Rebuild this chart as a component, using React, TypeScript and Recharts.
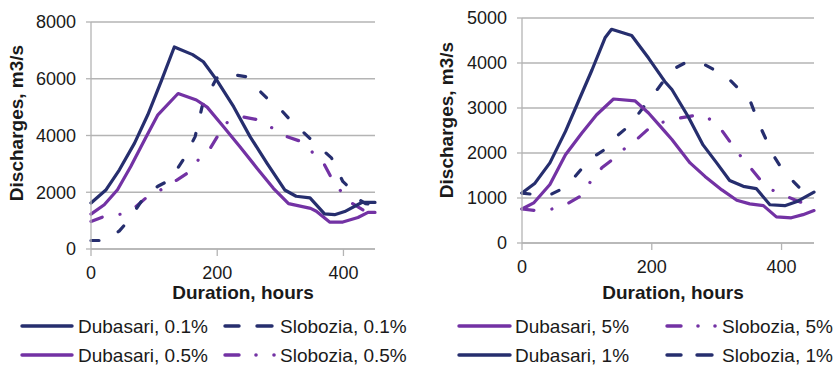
import React from 'react';
import { LineChart, Line, XAxis, YAxis, CartesianGrid } from 'recharts';

// ---- Left panel (0.1% / 0.5%) ----
const dub01Hours = [0, 24, 45, 69, 90, 111, 132, 161, 178, 199, 226, 252, 279, 307, 325, 347, 370, 386, 402, 429, 450];
const dub01Values = [1620, 2090, 2790, 3730, 4730, 5900, 7120, 6850, 6600, 5960, 5015, 3960, 3020, 2080, 1860, 1800, 1240, 1210, 1320, 1640, 1640];

const dub05Hours = [0, 21, 42, 63, 85, 106, 138, 167, 184, 210, 236, 263, 289, 313, 348, 357, 378, 399, 423, 439, 450];
const dub05Values = [1230, 1560, 2090, 2910, 3850, 4730, 5480, 5250, 5000, 4310, 3600, 2850, 2140, 1600, 1430, 1330, 950, 950, 1110, 1290, 1290];

const slo01Hours = [0, 24, 45, 58, 85, 106, 125, 146, 165, 176, 181, 199, 213, 247, 255, 279, 287, 313, 352, 381, 399, 407, 420, 435, 450];
const slo01Values = [300, 300, 640, 970, 1850, 2210, 2430, 3140, 3960, 5015, 5250, 6020, 6190, 6070, 5840, 5310, 5250, 4610, 3790, 3210, 2380, 2210, 1800, 1600, 1550];

const slo05Hours = [0, 21, 48, 69, 87, 111, 136, 153, 170, 189, 213, 239, 266, 284, 308, 334, 347, 368, 381, 394, 413, 439, 450];
const slo05Values = [970, 1150, 1230, 1450, 1800, 2090, 2430, 2680, 3140, 3550, 4430, 4660, 4550, 4310, 3980, 3780, 3490, 3050, 2500, 2090, 1620, 1270, 1270];

// ---- Right panel (5% / 1%) ----
const dub1Hours = [0, 20, 43, 67, 87, 108, 128, 138, 169, 195, 220, 231, 256, 279, 300, 320, 341, 361, 382, 405, 425, 450];
const dub1Values = [1110, 1330, 1780, 2480, 3150, 3850, 4560, 4750, 4610, 4110, 3590, 3410, 2810, 2180, 1780, 1390, 1260, 1210, 850, 830, 930, 1130];

const dub5Hours = [0, 18, 43, 67, 92, 115, 141, 174, 195, 220, 231, 259, 282, 308, 331, 351, 372, 392, 415, 433, 450];
const dub5Values = [755, 890, 1300, 1960, 2440, 2850, 3200, 3160, 2890, 2480, 2300, 1780, 1480, 1180, 950, 870, 830, 580, 560, 630, 720];

const slo1Hours = [0, 23, 46, 64, 82, 97, 115, 131, 149, 167, 182, 200, 210, 231, 251, 282, 315, 351, 367, 387, 403, 431, 450];
const slo1Values = [1110, 1070, 1090, 1220, 1480, 1740, 1960, 2110, 2410, 2630, 2920, 3260, 3440, 3850, 4000, 3960, 3700, 3180, 2590, 1960, 1590, 1180, 1130];

const slo5Hours = [0, 21, 46, 72, 90, 105, 123, 139, 156, 179, 202, 244, 272, 287, 308, 333, 351, 369, 385, 420, 444, 450];
const slo5Values = [755, 720, 755, 890, 1040, 1350, 1670, 1850, 2070, 2330, 2630, 2780, 2850, 2780, 2500, 2000, 1690, 1370, 1180, 960, 830, 800];

const xTicks = [0, 200, 400];
const leftYTicks = [0, 2000, 4000, 6000, 8000];
const rightYTicks = [0, 1000, 2000, 3000, 4000, 5000];

const NAVY = '#262e6e';
const PURPLE = '#7332a4';
const GRID = '#b4b4b4';
const TEXT = '#1a1a1a';
const FONT = '"Liberation Sans", Arial, Helvetica, sans-serif';

const DASHED = '8 22';
const DASHDOT = '12 18 0.1 18';

const zip = (hs: number[], vs: number[]) => hs.map((h, i) => ({ h, v: vs[i] }));

type SeriesDef = { name: string; data: { h: number; v: number }[]; color: string; dash?: string };

const leftSeries: SeriesDef[] = [
  { name: 'Slobozia, 0.5%', data: zip(slo05Hours, slo05Values), color: PURPLE, dash: DASHDOT },
  { name: 'Slobozia, 0.1%', data: zip(slo01Hours, slo01Values), color: NAVY, dash: DASHED },
  { name: 'Dubasari, 0.5%', data: zip(dub05Hours, dub05Values), color: PURPLE },
  { name: 'Dubasari, 0.1%', data: zip(dub01Hours, dub01Values), color: NAVY },
];

const rightSeries: SeriesDef[] = [
  { name: 'Slobozia, 5%', data: zip(slo5Hours, slo5Values), color: PURPLE, dash: DASHDOT },
  { name: 'Slobozia, 1%', data: zip(slo1Hours, slo1Values), color: NAVY, dash: DASHED },
  { name: 'Dubasari, 5%', data: zip(dub5Hours, dub5Values), color: PURPLE },
  { name: 'Dubasari, 1%', data: zip(dub1Hours, dub1Values), color: NAVY },
];

type PanelProps = {
  left: number;
  width: number;
  margin: { top: number; right: number; bottom: number; left: number };
  yWidth: number;
  xHeight: number;
  yMax: number;
  yTicks: number[];
  series: SeriesDef[];
  yTitle: { x: number; y: number };
  xTitle: { x: number; y: number };
};

const Panel = (p: PanelProps) => (
  <div style={{ position: 'absolute', left: p.left, top: 0 }}>
    <LineChart width={p.width} height={310} margin={p.margin} style={{ fontFamily: FONT }}>
      <CartesianGrid vertical={false} stroke={GRID} strokeWidth={1.3} />
      <XAxis
        type="number"
        dataKey="h"
        domain={[0, 450]}
        ticks={xTicks}
        height={p.xHeight}
        tickSize={7}
        tickMargin={10}
        axisLine={{ stroke: GRID, strokeWidth: 1.3 }}
        tickLine={{ stroke: GRID, strokeWidth: 1.3 }}
        tick={{ fontSize: 18, fill: TEXT, fontFamily: FONT }}
        label={{
          content: () => (
            <text x={p.xTitle.x} y={p.xTitle.y} textAnchor="middle" fontSize={19} fontWeight="bold" fill={TEXT} fontFamily={FONT}>
              Duration, hours
            </text>
          ),
        }}
      />
      <YAxis
        type="number"
        domain={[0, p.yMax]}
        ticks={p.yTicks}
        width={p.yWidth}
        tickSize={5}
        tickMargin={10}
        axisLine={{ stroke: GRID, strokeWidth: 1.3 }}
        tickLine={{ stroke: GRID, strokeWidth: 1.3 }}
        tick={{ fontSize: 18, fill: TEXT, fontFamily: FONT }}
        label={{
          content: () => (
            <text
              x={p.yTitle.x}
              y={p.yTitle.y}
              textAnchor="middle"
              dominantBaseline="central"
              transform={`rotate(-90 ${p.yTitle.x} ${p.yTitle.y})`}
              fontSize={19}
              fontWeight="bold"
              fill={TEXT}
              fontFamily={FONT}
            >
              Discharges, m3/s
            </text>
          ),
        }}
      />
      {p.series.map((s) => (
        <Line
          key={s.name}
          name={s.name}
          data={s.data}
          dataKey="v"
          type="linear"
          stroke={s.color}
          strokeWidth={3.2}
          strokeDasharray={s.dash}
          strokeLinecap="round"
          strokeLinejoin="round"
          dot={false}
          activeDot={false}
          isAnimationActive={false}
        />
      ))}
    </LineChart>
  </div>
);

type LegendItem = { label: string; color: string; kind: 'solid' | 'dash' | 'dashdot'; x0: number; x1: number; tx: number; y: number };

const legendItems: LegendItem[] = [
  { label: 'Dubasari, 0.1%', color: NAVY, kind: 'solid', x0: 22, x1: 72, tx: 78, y: 326 },
  { label: 'Slobozia, 0.1%', color: NAVY, kind: 'dash', x0: 225, x1: 272, tx: 280, y: 326 },
  { label: 'Dubasari, 0.5%', color: PURPLE, kind: 'solid', x0: 22, x1: 72, tx: 78, y: 355 },
  { label: 'Slobozia, 0.5%', color: PURPLE, kind: 'dashdot', x0: 225, x1: 274, tx: 280, y: 355 },
  { label: 'Dubasari, 5%', color: PURPLE, kind: 'solid', x0: 459, x1: 510, tx: 515, y: 326 },
  { label: 'Slobozia, 5%', color: PURPLE, kind: 'dashdot', x0: 667, x1: 715, tx: 722, y: 326 },
  { label: 'Dubasari, 1%', color: NAVY, kind: 'solid', x0: 459, x1: 510, tx: 515, y: 355 },
  { label: 'Slobozia, 1%', color: NAVY, kind: 'dash', x0: 667, x1: 712, tx: 722, y: 355 },
];

const LegendSample = ({ it }: { it: LegendItem }) => {
  if (it.kind === 'solid') {
    return <line x1={it.x0} x2={it.x1} y1={it.y} y2={it.y} stroke={it.color} strokeWidth={3.4} strokeLinecap="round" />;
  }
  if (it.kind === 'dash') {
    return (
      <g>
        <line x1={it.x0} x2={it.x0 + 14} y1={it.y} y2={it.y} stroke={it.color} strokeWidth={3.4} strokeLinecap="round" />
        <line x1={it.x1 - 15} x2={it.x1} y1={it.y} y2={it.y} stroke={it.color} strokeWidth={3.4} strokeLinecap="round" />
      </g>
    );
  }
  return (
    <g>
      <line x1={it.x0} x2={it.x0 + 14} y1={it.y} y2={it.y} stroke={it.color} strokeWidth={3.4} strokeLinecap="round" />
      <circle cx={it.x0 + 31} cy={it.y} r={1.8} fill={it.color} />
      <circle cx={it.x1} cy={it.y} r={1.8} fill={it.color} />
    </g>
  );
};

export default function App() {
  return (
    <div style={{ position: 'absolute', left: 0, top: 0, width: 838, height: 365, background: '#fff', fontFamily: FONT }}>
      <Panel
        left={0}
        width={420}
        margin={{ top: 22, right: 45, bottom: 0, left: 0 }}
        yWidth={91}
        xHeight={61}
        yMax={8000}
        yTicks={leftYTicks}
        series={leftSeries}
        yTitle={{ x: 16, y: 123 }}
        xTitle={{ x: 243, y: 299 }}
      />
      <Panel
        left={420}
        width={418}
        margin={{ top: 18, right: 24, bottom: 0, left: 0 }}
        yWidth={102}
        xHeight={67}
        yMax={5000}
        yTicks={rightYTicks}
        series={rightSeries}
        yTitle={{ x: 26, y: 120 }}
        xTitle={{ x: 253, y: 299 }}
      />
      <svg width={838} height={365} style={{ position: 'absolute', left: 0, top: 0, pointerEvents: 'none' }}>
        {legendItems.map((it) => (
          <g key={it.label}>
            <LegendSample it={it} />
            <text x={it.tx} y={it.y + 7} fontSize={19} fill={TEXT} fontFamily={FONT}>
              {it.label}
            </text>
          </g>
        ))}
      </svg>
    </div>
  );
}
